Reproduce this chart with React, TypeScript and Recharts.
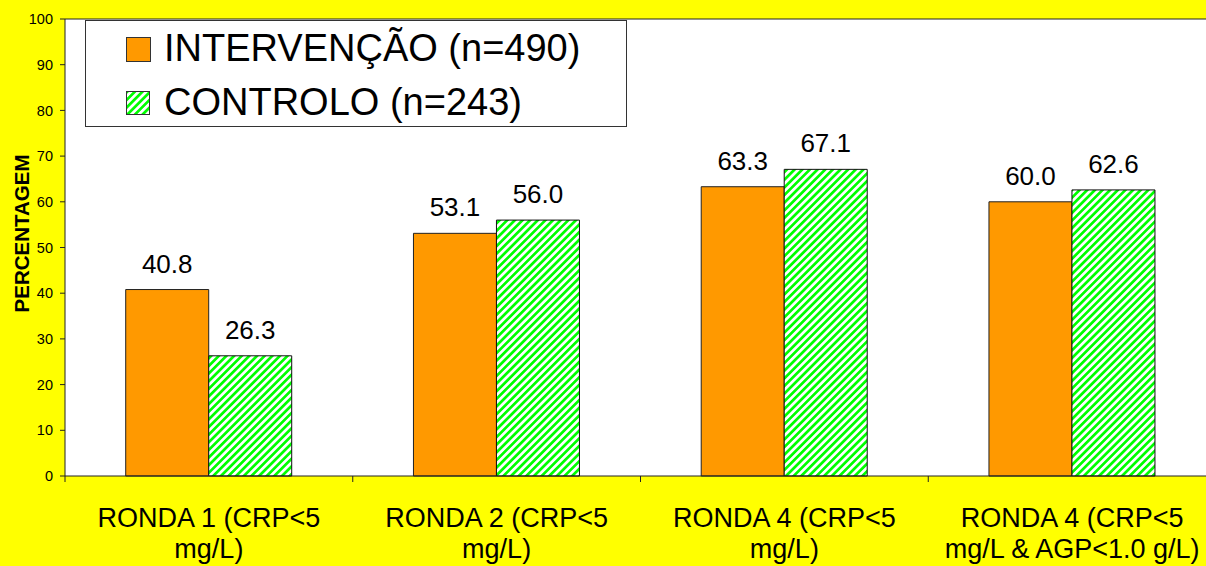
import React from "react";
import {
  BarChart,
  Bar,
  XAxis,
  YAxis,
  CartesianGrid,
  LabelList,
  Legend,
  ReferenceLine,
} from "recharts";

// Survey rounds shown along the category axis (line break splits the label)
const categories = [
  "RONDA 1 (CRP<5\nmg/L)",
  "RONDA 2 (CRP<5\nmg/L)",
  "RONDA 4 (CRP<5\nmg/L)",
  "RONDA 4 (CRP<5\nmg/L & AGP<1.0 g/L)",
];

// Percentages per group
const intervencao = [40.8, 53.1, 63.3, 60.0];
const controlo = [26.3, 56.0, 67.1, 62.6];

const yTicks = [0, 10, 20, 30, 40, 50, 60, 70, 80, 90, 100];

const seriesNames = {
  intervencao: "INTERVENÇÃO (n=490)",
  controlo: "CONTROLO (n=243)",
};

const data = categories.map((c, i) => ({
  name: c,
  intervencao: intervencao[i],
  controlo: controlo[i],
}));

const FONT = "Arial, 'Liberation Sans', Helvetica, sans-serif";
const CHART_W = 1216;
const CHART_H = 566;
const Y_AXIS_W = 65;
const ORANGE = "#FF9900";
const GREEN = "#00FF00";

const bandWidth = (CHART_W - Y_AXIS_W) / categories.length;

const CategoryTick = (props: any) => {
  const { x, y, payload } = props;
  const lines = String(payload.value).split("\n");
  const left = x - bandWidth / 2;
  return (
    <g>
      <line x1={left} y1={y} x2={left} y2={y + 6} stroke="#222" strokeWidth={1} />
      <text
        x={x}
        y={y + 51}
        textAnchor="middle"
        fontFamily={FONT}
        fontSize={27}
        fill="#000"
      >
        {lines.map((ln, i) => (
          <tspan key={i} x={x} dy={i === 0 ? 0 : 31}>
            {ln}
          </tspan>
        ))}
      </text>
    </g>
  );
};

const YTitle = (props: any) => {
  const { viewBox } = props;
  const cy = viewBox ? viewBox.y + viewBox.height / 2 - 14 : 233;
  return (
    <text
      x={0}
      y={0}
      transform={`translate(29, ${cy}) rotate(-90)`}
      textAnchor="middle"
      fontFamily={FONT}
      fontWeight="bold"
      fontSize={20.5}
      fill="#000"
    >
      PERCENTAGEM
    </text>
  );
};

const HatchSwatch = () => (
  <svg width={24} height={24} style={{ display: "block" }}>
    <defs>
      <pattern
        id="hatchSwatch"
        patternUnits="userSpaceOnUse"
        width={5.4}
        height={5.4}
        patternTransform="rotate(45)"
      >
        <rect x={0} y={0} width={5.4} height={5.4} fill="#fff" />
        <rect x={0} y={0} width={2.7} height={5.4} fill={GREEN} />
      </pattern>
    </defs>
    <rect x={0.5} y={0.5} width={23} height={23} fill="url(#hatchSwatch)" stroke="#333" />
  </svg>
);

const LegendBox = () => (
  <div
    style={{
      boxSizing: "border-box",
      width: 542,
      height: 107,
      border: "1px solid #333",
      background: "#fff",
      position: "relative",
      fontFamily: FONT,
      fontSize: 38,
      lineHeight: "38px",
      color: "#000",
      whiteSpace: "nowrap",
    }}
  >
    <div
      style={{
        position: "absolute",
        left: 40,
        top: 16,
        width: 25,
        height: 25,
        boxSizing: "border-box",
        background: ORANGE,
        border: "1px solid #333",
      }}
    />
    <div style={{ position: "absolute", left: 78, top: 8 }}>{seriesNames.intervencao}</div>
    <div style={{ position: "absolute", left: 40, top: 70 }}>
      <HatchSwatch />
    </div>
    <div style={{ position: "absolute", left: 78, top: 62 }}>{seriesNames.controlo}</div>
  </div>
);

export default function App() {
  return (
    <div
      style={{
        position: "fixed",
        left: 0,
        top: 0,
        width: 1206,
        height: 566,
        overflow: "hidden",
        background: "#FFFF00",
      }}
    >
      <BarChart
        width={CHART_W}
        height={CHART_H}
        data={data}
        margin={{ top: 19, right: 0, bottom: 0, left: 0 }}
        barCategoryGap="21.1%"
        barGap={0}
      >
        <defs>
          <pattern
            id="greenHatch"
            patternUnits="userSpaceOnUse"
            width={5.4}
            height={5.4}
            patternTransform="rotate(45)"
          >
            <rect x={0} y={0} width={5.4} height={5.4} fill="#fff" />
            <rect x={0} y={0} width={2.7} height={5.4} fill={GREEN} />
          </pattern>
        </defs>
        <CartesianGrid fill="#fff" stroke="none" horizontal={false} vertical={false} />
        <XAxis
          dataKey="name"
          height={90}
          axisLine={{ stroke: "#222", strokeWidth: 1 }}
          tickLine={false}
          tickSize={0}
          tickMargin={0}
          interval={0}
          tick={<CategoryTick />}
        />
        <YAxis
          width={Y_AXIS_W}
          domain={[0, 100]}
          ticks={yTicks}
          interval={0}
          axisLine={{ stroke: "#222", strokeWidth: 1 }}
          tickLine={{ stroke: "#222" }}
          tickSize={5}
          tickMargin={7}
          tick={{ fontFamily: FONT, fontSize: 14.5, fill: "#000" }}
          label={<YTitle />}
        />
        <ReferenceLine y={100} stroke="#222" strokeWidth={1} />
        <Legend
          layout="vertical"
          align="center"
          verticalAlign="middle"
          content={<LegendBox />}
          wrapperStyle={{ position: "absolute", left: 85, top: 20, width: 542, height: 107 }}
        />
        <Bar
          dataKey="intervencao"
          name={seriesNames.intervencao}
          fill={ORANGE}
          stroke="#222"
          strokeWidth={1}
          isAnimationActive={false}
        >
          <LabelList
            dataKey="intervencao"
            position="top"
            offset={17}
            formatter={(v: any) => Number(v).toFixed(1)}
            style={{ fontFamily: FONT, fontSize: 26, fill: "#000" }}
          />
        </Bar>
        <Bar
          dataKey="controlo"
          name={seriesNames.controlo}
          fill="url(#greenHatch)"
          stroke="#111"
          strokeWidth={1}
          isAnimationActive={false}
        >
          <LabelList
            dataKey="controlo"
            position="top"
            offset={17}
            formatter={(v: any) => Number(v).toFixed(1)}
            style={{ fontFamily: FONT, fontSize: 26, fill: "#000" }}
          />
        </Bar>
      </BarChart>
    </div>
  );
}
